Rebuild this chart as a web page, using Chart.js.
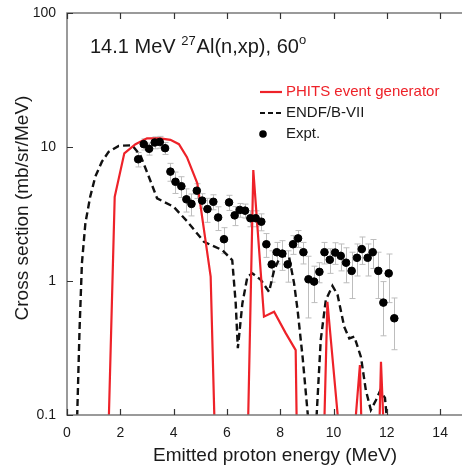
<!DOCTYPE html>
<html>
<head>
<meta charset="utf-8">
<script src="https://cdn.jsdelivr.net/npm/chart.js@4"></script>
<style>
  html, body { margin: 0; padding: 0; background: #fff; overflow: hidden; }
  canvas { display: block; }
</style>
</head>
<body>
<canvas id="xs" width="462" height="470"></canvas>
<script>
// PHITS event generator (red); null = gap in the line
const phitsE = [1.56, 1.79, 2.15, 2.57, 3.0, 3.5, 3.88, 4.2, 4.5, 4.89, 5.39, 5.54, 5.6,
  6.79, 6.99, 7.39, 7.77, 8.2, 8.58, 8.62, 8.7,
  9.65, 9.77, 10.2, 10.3,
  10.8, 10.99, 11.05, 11.1,
  11.72, 11.78, 11.88];
const phitsXS = [0.08, 4.25, 8.97, 10.5, 11.6, 11.6, 11.3, 10.5, 8.4, 5.36, 1.08, 0.08, null,
  0.08, 6.73, 0.542, 0.59, 0.41, 0.305, 0.08, null,
  0.08, 0.70, 0.08, null,
  0.08, 0.236, 0.08, null,
  0.08, 0.25, 0.08];

// ENDF/B-VII (black dashed)
const endfE = [0.37, 0.47, 0.56, 0.69, 0.87, 1.06, 1.31, 1.56, 1.94, 2.44, 2.75, 3.07, 3.38,
  4.0, 4.5, 5.14, 5.83, 6.2, 6.33, 6.41, 6.58, 6.77, 6.96, 7.27, 7.58, 7.77, 8.02, 8.33,
  8.52, 8.65, 8.84, 9.08, 9.2,
  9.34, 9.52, 9.71, 9.96, 10.15, 10.4, 10.59, 10.78, 11.03, 11.21, 11.4, 11.59, 11.75,
  11.93, 11.99];
const endfXS = [0.08, 0.43, 1.36, 2.7, 4.25, 6.0, 7.77, 9.2, 10.2, 10.3, 8.7, 6.0, 4.14,
  3.58, 2.8, 1.96, 1.70, 1.43, 0.68, 0.315, 0.68, 1.08, 1.14, 1.02, 0.83, 1.2, 1.56, 1.52,
  0.96, 0.61, 0.27, 0.08, null,
  0.08, 0.363, 0.72, 0.92, 0.79, 0.456, 0.373, 0.385, 0.27, 0.154, 0.109, 0.129, 0.152,
  0.134, 0.1];

// Experiment
const exptE = [2.67, 2.88, 3.08, 3.29, 3.48, 3.68, 3.88, 4.07, 4.29, 4.48, 4.67, 4.87, 5.07,
  5.27, 5.49, 5.67, 5.89, 6.08, 6.29, 6.48, 6.68, 6.88, 7.08, 7.29, 7.48, 7.68, 7.87, 8.08,
  8.28, 8.48, 8.67, 8.87, 9.06, 9.27, 9.47, 9.66, 9.86, 10.06, 10.27, 10.47, 10.68, 10.88,
  11.06, 11.28, 11.47, 11.68, 11.87, 12.07, 12.28];
const exptXS = [8.1, 10.5, 9.7, 10.8, 10.9, 9.8, 6.55, 5.5, 5.1, 4.07, 3.76, 4.72, 3.98,
  3.44, 3.9, 2.98, 2.05, 3.86, 3.09, 3.39, 3.35, 2.94, 2.94, 2.77, 1.88, 1.33, 1.64, 1.6,
  1.33, 1.88, 2.08, 1.64, 1.03, 0.99, 1.17, 1.64, 1.44, 1.63, 1.54, 1.37, 1.19, 1.49,
  1.73, 1.49, 1.64, 1.19, 0.69, 1.14, 0.527];
const exptErr = [1.0, 1.0, 1.0, 1.1, 1.1, 1.0, 1.0, 1.0, 0.9, 0.8, 0.7, 0.6, 0.5,
  0.7, 0.5, 0.6, 0.45, 0.5, 0.5, 0.4, 0.4, 0.4, 0.4, 0.4, 0.38, 0.35, 0.3, 0.4,
  0.35, 0.3, 0.3, 0.3, 0.5, 0.3, 0.2, 0.3, 0.3, 0.3, 0.35, 0.4, 0.45, 0.4,
  0.4, 0.4, 0.4, 0.45, 0.3, 0.45, 0.22];

const xTicks = [0, 2, 4, 6, 8, 10, 12, 14];
const yTicks = [0.1, 1, 10, 100];

const FONT = "'Liberation Sans', Arial, Helvetica, sans-serif";
const RED = "#ee2229";

function toPoints(xs, ys)
{
  return xs.map((x, i) => ({ x: x, y: ys[i] }));
}

const decor = {
  id: "decor",
  beforeDatasetsDraw(chart)
  {
    const ctx = chart.ctx;
    const xs = chart.scales.x, ys = chart.scales.y;
    const area = chart.chartArea;
    ctx.save();
    ctx.beginPath();
    ctx.rect(area.left, area.top, area.right - area.left, area.bottom - area.top);
    ctx.clip();
    ctx.strokeStyle = "#bdbdbd";
    ctx.lineWidth = 1;
    for (let i = 0; i < exptE.length; i++) {
      const px = Math.round(xs.getPixelForValue(exptE[i])) + 0.5;
      const top = ys.getPixelForValue(exptXS[i] + exptErr[i]);
      const bot = ys.getPixelForValue(Math.max(exptXS[i] - exptErr[i], 0.01));
      ctx.beginPath();
      ctx.moveTo(px, top); ctx.lineTo(px, bot);
      ctx.moveTo(px - 3, top); ctx.lineTo(px + 3, top);
      ctx.moveTo(px - 3, bot); ctx.lineTo(px + 3, bot);
      ctx.stroke();
    }
    ctx.restore();
  },
  afterDraw(chart)
  {
    const ctx = chart.ctx;
    const xs = chart.scales.x, ys = chart.scales.y;
    const a = chart.chartArea;
    const w = chart.width;
    ctx.save();

    // frame (left, top, bottom); right side runs off the canvas
    ctx.strokeStyle = "#7a7a7a";
    ctx.lineWidth = 1.5;
    ctx.beginPath();
    ctx.moveTo(w, a.top); ctx.lineTo(a.left, a.top);
    ctx.lineTo(a.left, a.bottom); ctx.lineTo(w, a.bottom);
    ctx.stroke();

    // inward ticks
    ctx.strokeStyle = "#333";
    ctx.lineWidth = 1.2;
    ctx.beginPath();
    xTicks.forEach(v => {
      const p = Math.round(xs.getPixelForValue(v)) + 0.5;
      ctx.moveTo(p, a.bottom); ctx.lineTo(p, a.bottom - 6);
      ctx.moveTo(p, a.top); ctx.lineTo(p, a.top + 6);
    });
    yTicks.forEach(v => {
      const p = Math.round(ys.getPixelForValue(v)) + 0.5;
      ctx.moveTo(a.left, p); ctx.lineTo(a.left + 6, p);
    });
    ctx.stroke();

    // title with superscripts
    ctx.fillStyle = "#1a1a1a";
    ctx.textBaseline = "alphabetic";
    ctx.textAlign = "left";
    let tx = 90;
    const base = 53;
    const parts = [["14.1 MeV ", 20, 0], ["27", 13, -8], ["Al(n,xp), 60", 20, 0], ["o", 13, -9]];
    parts.forEach(p => {
      ctx.font = p[1] + "px " + FONT;
      ctx.fillText(p[0], tx, base + p[2]);
      tx += ctx.measureText(p[0]).width + (p[1] === 13 ? 1 : 0);
    });

    // legend
    ctx.font = "15px " + FONT;
    ctx.textBaseline = "middle";
    ctx.strokeStyle = RED;
    ctx.lineWidth = 2.2;
    ctx.beginPath(); ctx.moveTo(260, 92); ctx.lineTo(282, 92); ctx.stroke();
    ctx.fillStyle = RED;
    ctx.fillText("PHITS event generator", 286, 92);

    ctx.strokeStyle = "#111";
    ctx.setLineDash([5, 3]);
    ctx.beginPath(); ctx.moveTo(260, 113); ctx.lineTo(282, 113); ctx.stroke();
    ctx.setLineDash([]);
    ctx.fillStyle = "#1a1a1a";
    ctx.fillText("ENDF/B-VII", 286, 113);

    ctx.fillStyle = "#000";
    ctx.beginPath(); ctx.arc(263, 134, 3.8, 0, Math.PI * 2); ctx.fill();
    ctx.fillStyle = "#1a1a1a";
    ctx.fillText("Expt.", 286, 134);

    // axis titles
    ctx.font = "19px " + FONT;
    ctx.textAlign = "center";
    ctx.fillText("Emitted proton energy (MeV)", 275, 456);
    ctx.translate(23, 208);
    ctx.rotate(-Math.PI / 2);
    ctx.fillText("Cross section (mb/sr/MeV)", 0, 0);

    ctx.restore();
  }
};

const chart = new Chart("xs", {
  type: "scatter",
  data: {
    datasets: [
      {
        label: "Expt.",
        data: toPoints(exptE, exptXS),
        backgroundColor: "#000",
        borderColor: "#000",
        pointRadius: 3.8,
        pointHoverRadius: 3.8,
        showLine: false
      },
      {
        label: "PHITS event generator",
        data: toPoints(phitsE, phitsXS),
        borderColor: RED,
        borderWidth: 2.2,
        pointRadius: 0,
        showLine: true,
        spanGaps: false,
        tension: 0
      },
      {
        label: "ENDF/B-VII",
        data: toPoints(endfE, endfXS),
        borderColor: "#111",
        borderWidth: 2.4,
        borderDash: [7, 4],
        pointRadius: 0,
        showLine: true,
        spanGaps: false,
        tension: 0
      }
    ]
  },
  options: {
    responsive: false,
    animation: false,
    devicePixelRatio: 1,
    layout: { padding: { top: 13, right: 0, left: 0, bottom: 0 } },
    plugins: {
      legend: { display: false },
      tooltip: { enabled: false }
    },
    scales: {
      x: {
        type: "linear",
        min: 0,
        max: 14.64,
        afterBuildTicks: s => { s.ticks = xTicks.map(v => ({ value: v })); },
        afterFit: s => { s.height = 55; s.paddingLeft = 0; s.paddingRight = 0; },
        grid: { display: false, drawTicks: false },
        border: { display: false },
        ticks: {
          padding: 10,
          maxRotation: 0,
          color: "#1a1a1a",
          font: { family: FONT, size: 14 }
        }
      },
      y: {
        type: "logarithmic",
        min: 0.1,
        max: 100,
        afterBuildTicks: s => { s.ticks = yTicks.map(v => ({ value: v })); },
        afterFit: s => { s.width = 67; s.paddingTop = 0; s.paddingBottom = 0; },
        grid: { display: false, drawTicks: false },
        border: { display: false },
        ticks: {
          padding: 11,
          color: "#1a1a1a",
          font: { family: FONT, size: 14 },
          callback: v => String(v)
        }
      }
    }
  },
  plugins: [decor]
});
</script>
</body>
</html>
